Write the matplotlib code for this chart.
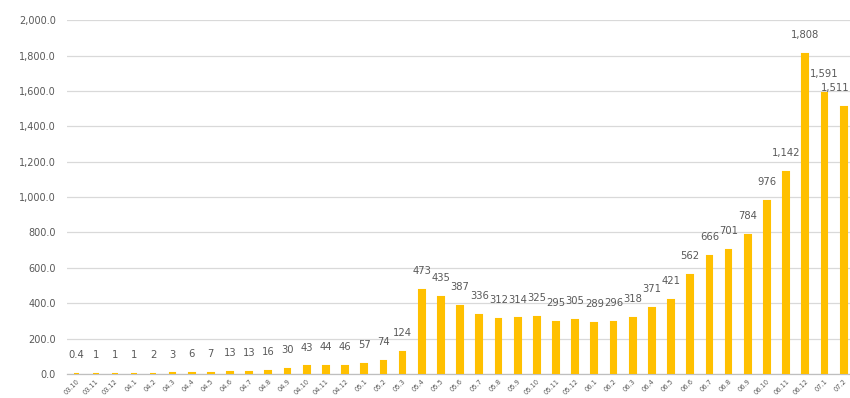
import matplotlib
matplotlib.use("Agg")
import matplotlib.pyplot as plt
from matplotlib.ticker import FuncFormatter

months = [
    "03.10", "03.11", "03.12",
    "04.1", "04.2", "04.3", "04.4", "04.5", "04.6", "04.7", "04.8", "04.9", "04.10", "04.11", "04.12",
    "05.1", "05.2", "05.3", "05.4", "05.5", "05.6", "05.7", "05.8", "05.9", "05.10", "05.11", "05.12",
    "06.1", "06.2", "06.3", "06.4", "06.5", "06.6", "06.7", "06.8", "06.9", "06.10", "06.11", "06.12",
    "07.1", "07.2",
]
values = [
    0.4, 1, 1,
    1, 2, 3, 6, 7, 13, 13, 16, 30, 43, 44, 46,
    57, 74, 124, 473, 435, 387, 336, 312, 314, 325, 295, 305,
    289, 296, 318, 371, 421, 562, 666, 701, 784, 976, 1142, 1808,
    1591, 1511,
]
label_text = ["0.4"] + [f"{v:,.0f}" for v in values[1:]]

bar_color = "#FFC000"
text_color = "#595959"
grid_color = "#D9D9D9"

fig = plt.figure(figsize=(8.5, 3.98), dpi=100)
ax = fig.add_axes([0.0788, 0.0603, 0.925, 0.889])

x = list(range(len(values)))
# an outline in the fill colour keeps the near-zero months visible as short dashes
ax.bar(x, values, width=0.3, color=bar_color, edgecolor=bar_color,
       linewidth=1.5, zorder=3)

last = len(values) - 1
for xi, v, t in zip(x, values, label_text):
    # keep the rightmost label inside the figure
    dx = -6 if xi == last else 0
    ax.annotate(t, (xi, v), xytext=(dx, 10), textcoords="offset points",
                ha="center", va="bottom", fontsize=7.2, color=text_color,
                annotation_clip=False)

ax.set_xlim(-0.5, len(values) - 0.5)
ax.set_ylim(0, 2000)
ax.set_yticks(range(0, 2001, 200))
ax.yaxis.set_major_formatter(FuncFormatter(lambda v, p: f"{v:,.1f}"))
ax.set_xticks(x)
ax.set_xticklabels(months, rotation=45, ha="right", rotation_mode="anchor",
                   fontsize=4.8, color=text_color)
ax.tick_params(axis="y", labelsize=7, colors=text_color, length=0, pad=8)
ax.tick_params(axis="x", length=0, pad=3)

ax.grid(axis="y", color=grid_color, linewidth=0.9, zorder=0)
for s in ["top", "right", "left"]:
    ax.spines[s].set_visible(False)
ax.spines["bottom"].set_color("#BFBFBF")
ax.spines["bottom"].set_linewidth(0.9)

fig.savefig("out.png", dpi=100)
